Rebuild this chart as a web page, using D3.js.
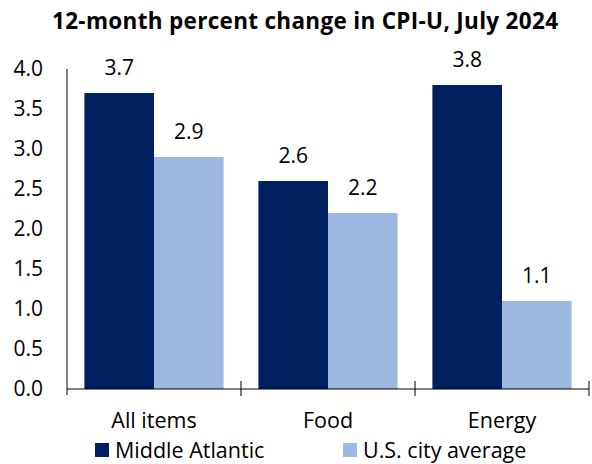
<!DOCTYPE html>
<html>
<head>
<meta charset="utf-8">
<script src="https://cdn.jsdelivr.net/npm/d3@7"></script>
<style>
  body { margin: 0; background: #fff; }
  text { font-family: "Open Sans", Lato, sans-serif; fill: #000; }
</style>
</head>
<body>
<svg id="chart" width="592" height="464"></svg>
<script>
// data
var categories = ['All items', 'Food', 'Energy'];
var seriesNames = ['Middle Atlantic', 'U.S. city average'];
var middleAtlantic = [3.7, 2.6, 3.8];
var usAverage = [2.9, 2.2, 1.1];
var yTicks = [0, 0.5, 1, 1.5, 2, 2.5, 3, 3.5, 4];
var colors = ['#002060', '#9db9e2'];

var rows = categories.map((c, i) => ({ cat: c, vals: [middleAtlantic[i], usAverage[i]] }));

var svg = d3.select('svg#chart');

var x = d3.scaleBand().domain(categories).range([67, 589]).padding(0);
var xInner = d3.scaleBand().domain(seriesNames).range([0, x.bandwidth()]).paddingOuter(0.25).paddingInner(0);
var y = d3.scaleLinear().domain([0, 4]).range([389, 69]);

// title
svg.append('text')
  .attr('x', 305)
  .attr('y', 29)
  .attr('text-anchor', 'middle')
  .attr('font-size', 22.5)
  .attr('font-weight', 'bold')
  .attr('textLength', 506)
  .attr('lengthAdjust', 'spacing')
  .text('12-month percent change in CPI-U, July 2024');

// bars
var gs = svg.selectAll('g.cat').data(rows).enter().append('g')
  .attr('class', 'cat')
  .attr('transform', d => 'translate(' + x(d.cat) + ',0)');

gs.selectAll('rect').data(d => d.vals.map((v, i) => ({ s: seriesNames[i], v: v, i: i }))).enter().append('rect')
  .attr('x', d => xInner(d.s))
  .attr('y', d => y(d.v))
  .attr('width', xInner.bandwidth())
  .attr('height', d => y(0) - y(d.v))
  .attr('fill', d => colors[d.i]);

gs.selectAll('text.val').data(d => d.vals.map((v, i) => ({ s: seriesNames[i], v: v }))).enter().append('text')
  .attr('class', 'val')
  .attr('x', d => xInner(d.s) + xInner.bandwidth() / 2)
  .attr('y', d => y(d.v) - 18)
  .attr('text-anchor', 'middle')
  .attr('font-size', 21)
  .text(d => d.v.toFixed(1));

// y axis
var yAxis = svg.append('g')
  .attr('transform', 'translate(67,0)')
  .call(d3.axisLeft(y).tickValues(yTicks).tickSize(0).tickPadding(24).tickFormat(d3.format('.1f')));
yAxis.select('.domain').attr('stroke', '#000').attr('d', 'M0,69V395');
yAxis.selectAll('text').attr('font-size', 21).attr('font-family', '"Open Sans", sans-serif').attr('fill', '#000');

// x axis line + boundary ticks
svg.append('line')
  .attr('x1', 67).attr('x2', 589)
  .attr('y1', y(0)).attr('y2', y(0))
  .attr('stroke', '#000');

svg.selectAll('line.bound').data(categories).enter().append('line')
  .attr('class', 'bound')
  .attr('x1', d => x(d) + x.bandwidth()).attr('x2', d => x(d) + x.bandwidth())
  .attr('y1', y(0) - 8).attr('y2', y(0) + 7)
  .attr('stroke', '#000');

svg.selectAll('text.cat').data(categories).enter().append('text')
  .attr('class', 'cat')
  .attr('x', d => x(d) + x.bandwidth() / 2)
  .attr('y', 428)
  .attr('text-anchor', 'middle')
  .attr('font-size', 21.5)
  .text(d => d);

// legend
var legendX = [95, 343];
var lg = svg.selectAll('g.legend').data(seriesNames).enter().append('g')
  .attr('class', 'legend')
  .attr('transform', (d, i) => 'translate(' + legendX[i] + ',443)');
lg.append('rect')
  .attr('width', 14).attr('height', 14)
  .attr('fill', (d, i) => colors[i]);
lg.append('text')
  .attr('x', 20)
  .attr('y', 14.5)
  .attr('font-size', 21.5)
  .text(d => d);
</script>
</body>
</html>
